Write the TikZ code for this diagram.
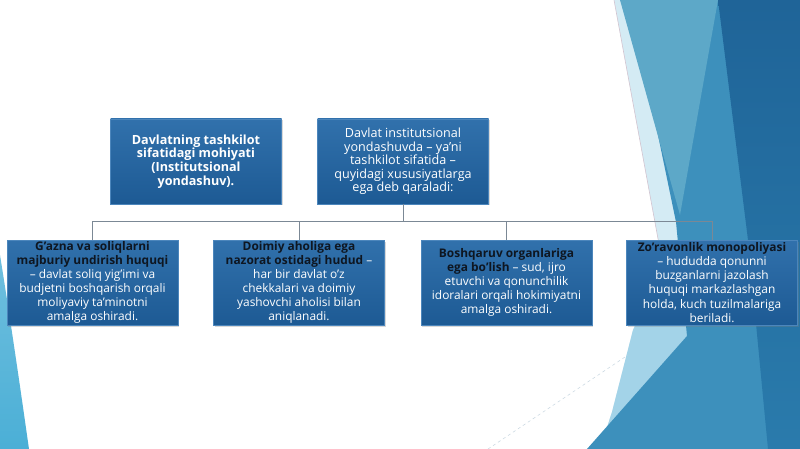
\documentclass[tikz,border=0pt]{standalone}
\usepackage{fontspec}
\setmainfont{Open Sans}
\usetikzlibrary{shadows}

\definecolor{boxtop}{HTML}{3171AC}
\definecolor{boxbot}{HTML}{1D5A94}
\definecolor{boxedge}{HTML}{4C86BC}
\definecolor{wirec}{HTML}{7B8895}
\definecolor{headc}{HTML}{0E1621}
\definecolor{paleteal}{HTML}{D4EBF4}
\definecolor{lightteal}{HTML}{A3D3E8}
\definecolor{midteal}{HTML}{3D90BC}
\definecolor{triteal}{HTML}{5DA8C8}
\definecolor{deepblue}{HTML}{1F6498}
\definecolor{lowblue}{HTML}{2A7BAC}
\definecolor{cyanleft}{HTML}{4BAFD6}
\definecolor{thinline}{HTML}{D2C4D0}
\definecolor{dashc}{HTML}{C6D5E0}

\tikzset{
	facetbox/.style={rectangle, top color=boxtop, bottom color=boxbot, draw=boxedge, line width=0.4pt,
		minimum width=171pt, minimum height=85pt, inner sep=0pt, align=center, text=white,
		drop shadow={shadow xshift=1pt, shadow yshift=-1.5pt, opacity=0.3}},
	toptext/.style={font=\fontsize{12.6}{13.6}\selectfont},
	bottext/.style={font=\fontsize{11.9}{14.1}\selectfont},
	conn/.style={draw=wirec, line width=0.8pt}
}
\newcommand{\hd}[1]{\textbf{\textcolor{headc}{#1}}}

\begin{document}
\begin{tikzpicture}[x=1pt, y=-1pt]
	%%%%% BACKGROUND %%%%%
	\fill[white] (0,0) rectangle (800,449);
	\useasboundingbox (0,0) rectangle (800,449);
	
	\fill[paleteal] (614,0) -- (800,0) -- (800,449) -- (600,449) -- (612,412) -- (633,330) -- (661,255) -- cycle;
	\fill[lightteal] (633,330) -- (668,262) -- (800,225) -- (800,449) -- (600,449) -- (612,412) -- cycle;
	\fill[midteal] (630,0) -- (800,0) -- (800,449) -- (587,449) -- (687,336) -- (676,222) -- cycle;
	\fill[triteal] (620,0) -- (718,0) -- (680,215) -- cycle;
	\shade[top color=deepblue, bottom color=lowblue] (718,0) -- (800,0) -- (800,449) -- (768,449) -- (748,240) -- cycle;
	\draw[thinline, line width=0.6pt] (614,0) -- (661,255);
	\draw[dashc, dashed, line width=0.5pt] (488,449) -- (628,355);
	\shade[top color=cyanleft!80!white, bottom color=cyanleft] (0,255) .. controls (12,330) and (22,400) .. (29,449) -- (0,449) -- cycle;
	
	%%%%% BOXES %%%%%
	\node[facetbox, toptext] (core) at (196,161.5) {\textbf{Davlatning tashkilot}\\ \textbf{sifatidagi mohiyati}\\ \textbf{(Institutsional}\\ \textbf{yondashuv).}};
	\node[facetbox, toptext] (inst) at (403,161.5) {Davlat institutsional\\ yondashuvda – ya’ni\\ tashkilot sifatida –\\ quyidagi xususiyatlarga\\ ega deb qaraladi:};
	
	\node[facetbox, bottext] (tax) at (92.5,282.5) {\hd{G’azna va soliqlarni}\\ \hd{majburiy undirish huquqi}\\ – davlat soliq yig’imi va\\ budjetni boshqarish orqali\\ moliyaviy ta’minotni\\ amalga oshiradi.};
	\node[facetbox, bottext] (land) at (299,282.5) {\hd{Doimiy aholiga ega}\\ \hd{nazorat ostidagi hudud} –\\ har bir davlat o’z\\ chekkalari va doimiy\\ yashovchi aholisi bilan\\ aniqlanadi.};
	\node[facetbox, bottext] (gov) at (506.5,282.5) {\hd{Boshqaruv organlariga}\\ \hd{ega bo’lish} – sud, ijro\\ etuvchi va qonunchilik\\ idoralari orqali hokimiyatni\\ amalga oshiradi.};
	\node[facetbox, bottext] (force) at (712,282.5) {\hd{Zo’ravonlik monopoliyasi}\\ – hududda qonunni\\ buzganlarni jazolash\\ huquqi markazlashgan\\ holda, kuch tuzilmalariga\\ beriladi.};
	
	%%%%% CONNECTORS %%%%%
	\coordinate (busL) at (tax.north |- 0,221);
	\coordinate (busR) at (force.north |- 0,221);
	\draw[conn] (inst.south) -- (inst.south |- busL);
	\draw[conn] (busL) -- (busR);
	\foreach \n in {tax,land,gov,force}
		\draw[conn] (\n.north |- busL) -- (\n.north);
\end{tikzpicture}
\end{document}
